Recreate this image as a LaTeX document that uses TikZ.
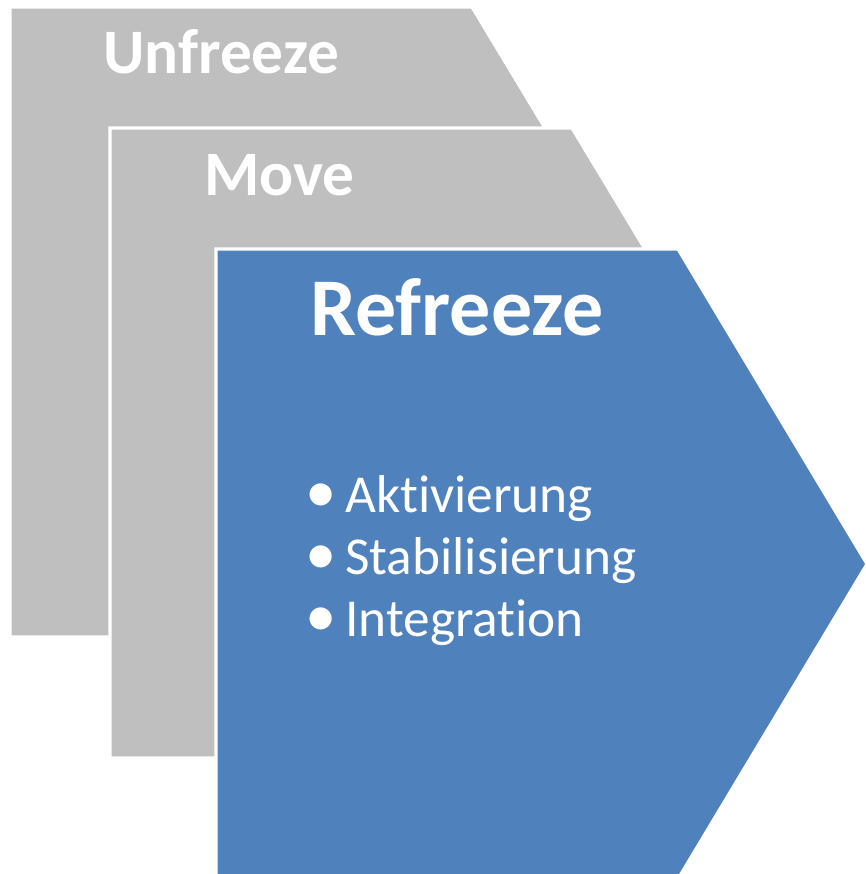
\documentclass[tikz,border=0pt]{standalone}
\usepackage{fontspec}
\setmainfont{Carlito}[RawFeature=-liga]
\definecolor{stepgray}{HTML}{BFBFBF}
\definecolor{stepblue}{HTML}{4F81BD}
\begin{document}
\begin{tikzpicture}[x=0.75pt,y=-0.75pt,
  chevron/.style={draw=white,line width=2.4pt,line join=miter},
  title/.style={anchor=base west,inner sep=0pt,text=white,font=\fontsize{47.5}{56}\selectfont\bfseries},
  bigtitle/.style={anchor=base west,inner sep=0pt,text=white,font=\fontsize{61.5}{72}\selectfont\bfseries},
  item/.style={anchor=base west,inner sep=0pt,text=white,font=\fontsize{40}{48}\selectfont},
  bullet/.style={anchor=base west,inner sep=0pt,text=white,font=\fontsize{47}{52}\selectfont}]
\useasboundingbox (0,0) rectangle (866,874);
\begin{scope}
\clip (0,0) rectangle (866,874);
\fill[white] (0,0) rectangle (866,874);
\path[chevron,fill=stepgray] (10,7) -- (472,7) -- (662,322) -- (472,637) -- (10,637) -- cycle;
\path[chevron,fill=stepgray] (110,128) -- (572,128) -- (762,443) -- (572,758) -- (110,758) -- cycle;
\path[chevron,fill=stepblue] (216,249) -- (678,249) -- (867,564) -- (678,879) -- (216,879) -- cycle;
\end{scope}
\node[title] (unfreeze) at (103,74) {Unfreeze};
\node[title] (move) at (204,195) {Move};
\node[bigtitle] (refreeze) at (310,335) {Refreeze};
\node[item] (i1) at (345,512) {Aktivierung};
\node[item] (i2) at (345,574) {Stabilisierung};
\node[item] (i3) at (345,636) {Integration};
\node[bullet] (b1) at (305,512) {•};
\node[bullet] (b2) at (305,574) {•};
\node[bullet] (b3) at (305,636) {•};
\end{tikzpicture}
\end{document}
